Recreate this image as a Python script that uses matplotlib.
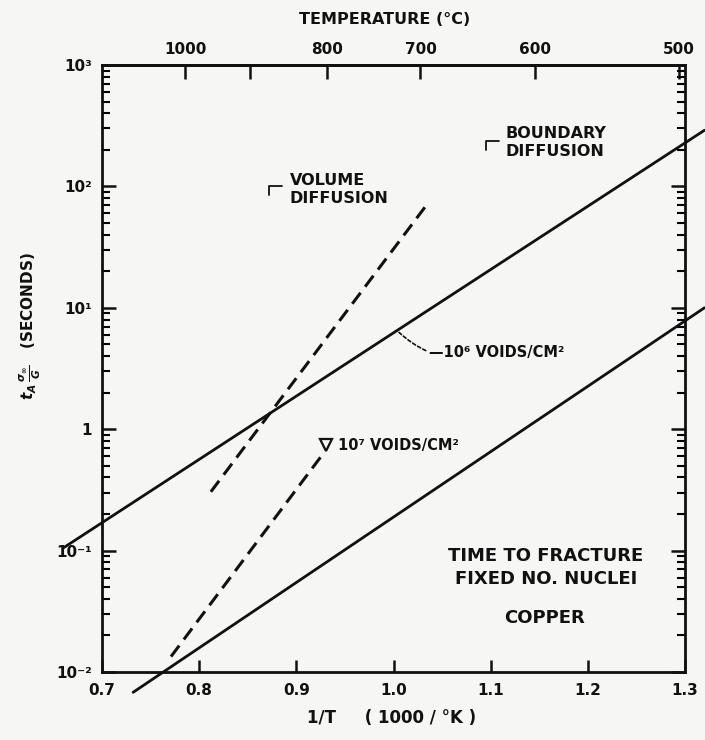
import numpy as np
import matplotlib
matplotlib.use("Agg")
import matplotlib.pyplot as plt

# values (x = 1000/T in 1/K, t in seconds)
boundary_1e6_x = [0.66, 1.32]
boundary_1e6_t = [0.105, 290.0]
boundary_1e7_x = [0.732, 1.32]
boundary_1e7_t = [0.0068, 10.0]
volume_1e6_x = [0.812, 1.035]
volume_1e6_t = [0.305, 72.0]
volume_1e7_x = [0.771, 0.925]
volume_1e7_t = [0.0134, 0.59]

x_ticks = [0.7, 0.8, 0.9, 1.0, 1.1, 1.2, 1.3]
x_tick_labels = ["0.7", "0.8", "0.9", "1.0", "1.1", "1.2", "1.3"]
y_ticks = [1e-2, 1e-1, 1, 10, 100, 1000]
y_tick_labels = ["10⁻²", "10⁻¹", "1", "10¹", "10²", "10³"]
temp_ticks = [1000, 900, 800, 700, 600, 500]
temp_labels = ["1000", "", "800", "700", "600", "500"]

plt.rcParams["font.family"] = ["DejaVu Sans"]
plt.rcParams["font.weight"] = "bold"
plt.rcParams["mathtext.fontset"] = "dejavusans"

paper = "#f6f6f4"
ink = "#111111"

fig = plt.figure(figsize=(7.05, 7.4), dpi=100, facecolor=paper)
ax = fig.add_axes([0.1447, 0.0919, 0.827, 0.8203], facecolor=paper)

ax.set_yscale("log")
ax.set_xlim(0.7, 1.3)
ax.set_ylim(1e-2, 1e3)

line_kw = dict(color=ink, lw=2.0, solid_capstyle="round", clip_on=False)
ax.plot(boundary_1e6_x, boundary_1e6_t, **line_kw)
ax.plot(boundary_1e7_x, boundary_1e7_t, **line_kw)
ax.plot(volume_1e6_x, volume_1e6_t, color=ink, lw=2.2, dashes=(4.5, 2.5))
ax.plot(volume_1e7_x, volume_1e7_t, color=ink, lw=2.2, dashes=(4.5, 2.5))

# small open triangle at the end of the 1e7 volume-diffusion line
ax.plot(volume_1e7_x[-1] + 0.006, volume_1e7_t[-1] * 1.25, marker="v", ms=8,
        mfc="none", mec=ink, mew=1.6)

# ticks
for side in ax.spines.values():
    side.set_linewidth(2.0)
    side.set_color(ink)
ax.set_xticks(x_ticks)
ax.set_xticklabels(x_tick_labels)
ax.set_yticks(y_ticks)
ax.set_yticklabels(y_tick_labels)
ax.yaxis.set_minor_locator(matplotlib.ticker.LogLocator(base=10, subs=np.arange(2, 10)))
ax.yaxis.set_minor_formatter(matplotlib.ticker.NullFormatter())
ax.tick_params(axis="y", which="major", direction="in", length=10, width=1.8,
               left=True, right=True, labelsize=11, pad=7, colors=ink)
ax.tick_params(axis="y", which="minor", direction="in", length=6, width=1.5,
               left=True, right=True)
ax.tick_params(axis="x", which="major", direction="in", length=9, width=1.8,
               top=False, labelsize=11, pad=8, colors=ink)

# top temperature axis
top = ax.secondary_xaxis("top", functions=(lambda x: 1000.0 / x - 273.0,
                                           lambda t: 1000.0 / (t + 273.0)))
top.set_xticks(temp_ticks)
top.set_xticklabels(temp_labels)
top.tick_params(direction="in", length=10, width=1.8, labelsize=11, pad=6, colors=ink)
top.spines["top"].set_linewidth(2.0)

fig.text(385 / 705, 1 - 20 / 740, "TEMPERATURE (°C)", ha="center", va="center",
         fontsize=11.5, color=ink)
fig.text(392 / 705, 1 - 718 / 740, "1/T     ( 1000 / °K )", ha="center", va="center",
         fontsize=12, color=ink)
fig.text(30 / 705, 1 - 326 / 740, r"$t_A\,\frac{\sigma_\infty}{G}$   (SECONDS)",
         rotation=90, ha="center", va="center", fontsize=11, color=ink)

# annotations
txt = dict(color=ink, fontsize=11.5, fontweight="bold", linespacing=1.25)
ax.text(0.893, 95, "VOLUME\nDIFFUSION", ha="left", va="center", **txt)
ax.text(1.115, 230, "BOUNDARY\nDIFFUSION", ha="left", va="center", **txt)
ax.text(1.157, 0.073, "TIME TO FRACTURE\nFIXED NO. NUCLEI", ha="center", va="center",
        fontsize=13, fontweight="bold", color=ink, linespacing=1.35)
ax.text(1.155, 0.028, "COPPER", ha="center", va="center", fontsize=13,
        fontweight="bold", color=ink)

small = dict(color=ink, fontsize=10.5, fontweight="bold")
lx = 1.0036
ly = 10 ** np.interp(lx, boundary_1e6_x, np.log10(boundary_1e6_t))
ax.annotate("—10⁶ VOIDS/CM²", xy=(lx, ly), xytext=(1.036, 4.25), ha="left", va="center",
            arrowprops=dict(arrowstyle="-", color=ink, lw=1.2, ls=(0, (2, 1.5)),
                            connectionstyle="arc3,rad=-0.3", shrinkA=0, shrinkB=2),
            **small)
ax.text(0.943, 0.73, "10⁷ VOIDS/CM²", ha="left", va="center", **small)

# little hooks before the diffusion labels
ax.annotate("", xy=(0.872, 80), xytext=(0.888, 100),
            arrowprops=dict(arrowstyle="-", color=ink, lw=1.3,
                            connectionstyle="angle,angleA=0,angleB=90,rad=0"))
ax.annotate("", xy=(1.095, 190), xytext=(1.111, 235),
            arrowprops=dict(arrowstyle="-", color=ink, lw=1.3,
                            connectionstyle="angle,angleA=0,angleB=90,rad=0"))

fig.savefig("out.png", dpi=100, facecolor=paper)
